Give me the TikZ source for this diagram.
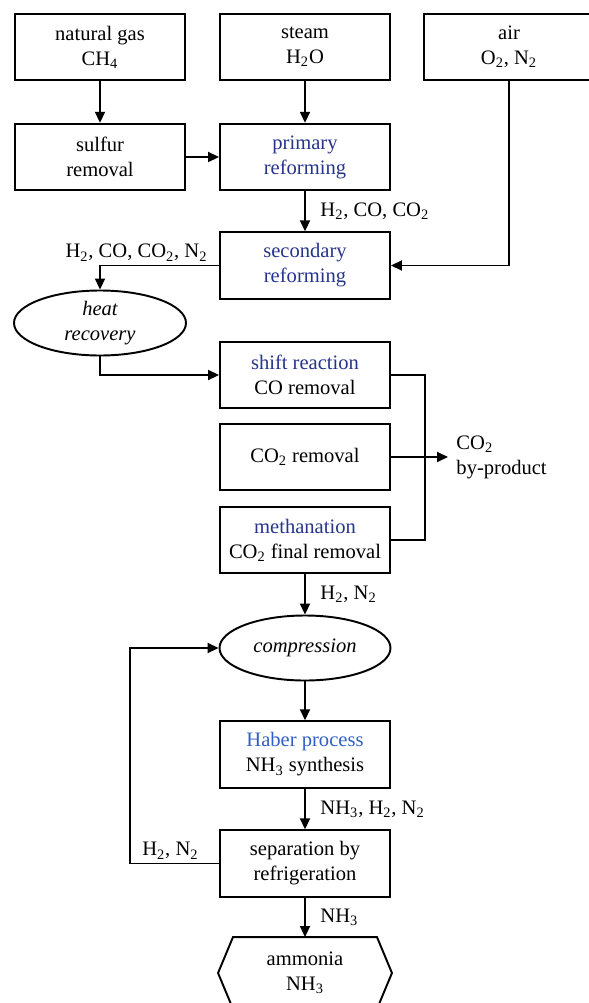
\documentclass[tikz,border=0pt]{standalone}
\usepackage{fontspec}
\setmainfont{Liberation Serif}
\usepackage{xcolor}
\usepackage{tikz}
\usetikzlibrary{shapes.geometric,arrows.meta}
\definecolor{stepblue}{RGB}{38,52,140}
\definecolor{haberblue}{RGB}{48,96,196}
\newcommand{\subs}[1]{\textsubscript{#1}}

\begin{document}
\begin{tikzpicture}[font=\fontsize{11.7}{14.2}\selectfont, line width=1.1pt,
  box/.style={draw, rectangle, minimum width=3.4cm, minimum height=1.33cm, align=center, inner sep=0pt},
  oval/.style={draw, ellipse, minimum width=3.42cm, minimum height=1.3cm, align=center, inner sep=0pt, font=\fontsize{11.7}{14.2}\selectfont\itshape},
  flow/.style={-{Triangle[length=0.22cm,width=0.2cm]}},
  lbl/.style={inner sep=2pt}]
\useasboundingbox (0,0) rectangle (11.78,-20.06);
  \node[box] (gas) at (2.0,-0.94) {natural gas\\CH\subs{4}};
  \node[box] (steam) at (6.1,-0.94) {steam\\H\subs{2}O};
  \node[box] (air) at (10.18,-0.94) {air\\O\subs{2}, N\subs{2}};
  \node[box] (sulfur) at (2.0,-3.14) {sulfur\\removal};
  \node[box] (primary) at (6.1,-3.14) {\textcolor{stepblue}{primary}\\\textcolor{stepblue}{reforming}};
  \node[box] (secondary) at (6.1,-5.31) {\textcolor{stepblue}{secondary}\\\textcolor{stepblue}{reforming}};
  \node[oval, minimum width=3.44cm] (heat) at (2.0,-6.46) {heat\\recovery};
  \node[box] (shift) at (6.1,-7.5) {\textcolor{stepblue}{shift reaction}\\CO removal};
  \node[box] (cotwo) at (6.1,-9.14) {CO\subs{2} removal};
  \node[box] (meth) at (6.1,-10.8) {\textcolor{stepblue}{methanation}\\CO\subs{2} final removal};
  \node[anchor=west, align=left, inner sep=0.15cm] (byprod) at (8.96,-9.14) {CO\subs{2}\\by-product};
  \node[oval] (comp) at (6.1,-12.96) {compression};
  \node[box] (haber) at (6.1,-15.09) {\textcolor{haberblue}{Haber process}\\NH\subs{3} synthesis};
  \node[box] (sep) at (6.1,-17.27) {separation by\\refrigeration};
  \node[minimum width=3.44cm, minimum height=1.4cm, align=center, inner sep=0pt] (ammonia) at (6.1,-19.46) {ammonia\\NH\subs{3}};
  \draw ([xshift=0.3cm]ammonia.north west) -- ([xshift=-0.3cm]ammonia.north east) -- (ammonia.east)
    -- ([xshift=-0.3cm]ammonia.south east) -- ([xshift=0.3cm]ammonia.south west) -- (ammonia.west) -- cycle;
  \draw[flow] (gas) -- (sulfur);
  \draw[flow] (steam) -- (primary);
  \draw[flow] (sulfur) -- (primary);
  \draw[flow] (primary) -- node[lbl, midway, right=0.22cm] {H\subs{2}, CO, CO\subs{2}} (secondary);
  \draw[flow] (air) |- (secondary);
  \draw[flow] (secondary) -| node[lbl, pos=0.03, above left] {H\subs{2}, CO, CO\subs{2}, N\subs{2}} (heat);
  \draw[flow] (heat) |- (shift);
  \draw (shift.east) -- ++(0.68,0) |- (meth.east);
  \draw[flow] (cotwo) -- (byprod);
  \draw[flow] (meth) -- node[lbl, midway, right=0.22cm] {H\subs{2}, N\subs{2}} (comp);
  \draw[flow] (comp) -- (haber);
  \draw[flow] (haber) -- node[lbl, midway, right=0.22cm] {NH\subs{3}, H\subs{2}, N\subs{2}} (sep);
  \draw[flow] (sep) -- node[lbl, midway, right=0.22cm] {NH\subs{3}} (ammonia);
  \draw[flow] (sep.west) -| node[lbl, pos=0.09, above left] {H\subs{2}, N\subs{2}} ([xshift=-1.78cm]comp.west) -- (comp.west);
\end{tikzpicture}
\end{document}
